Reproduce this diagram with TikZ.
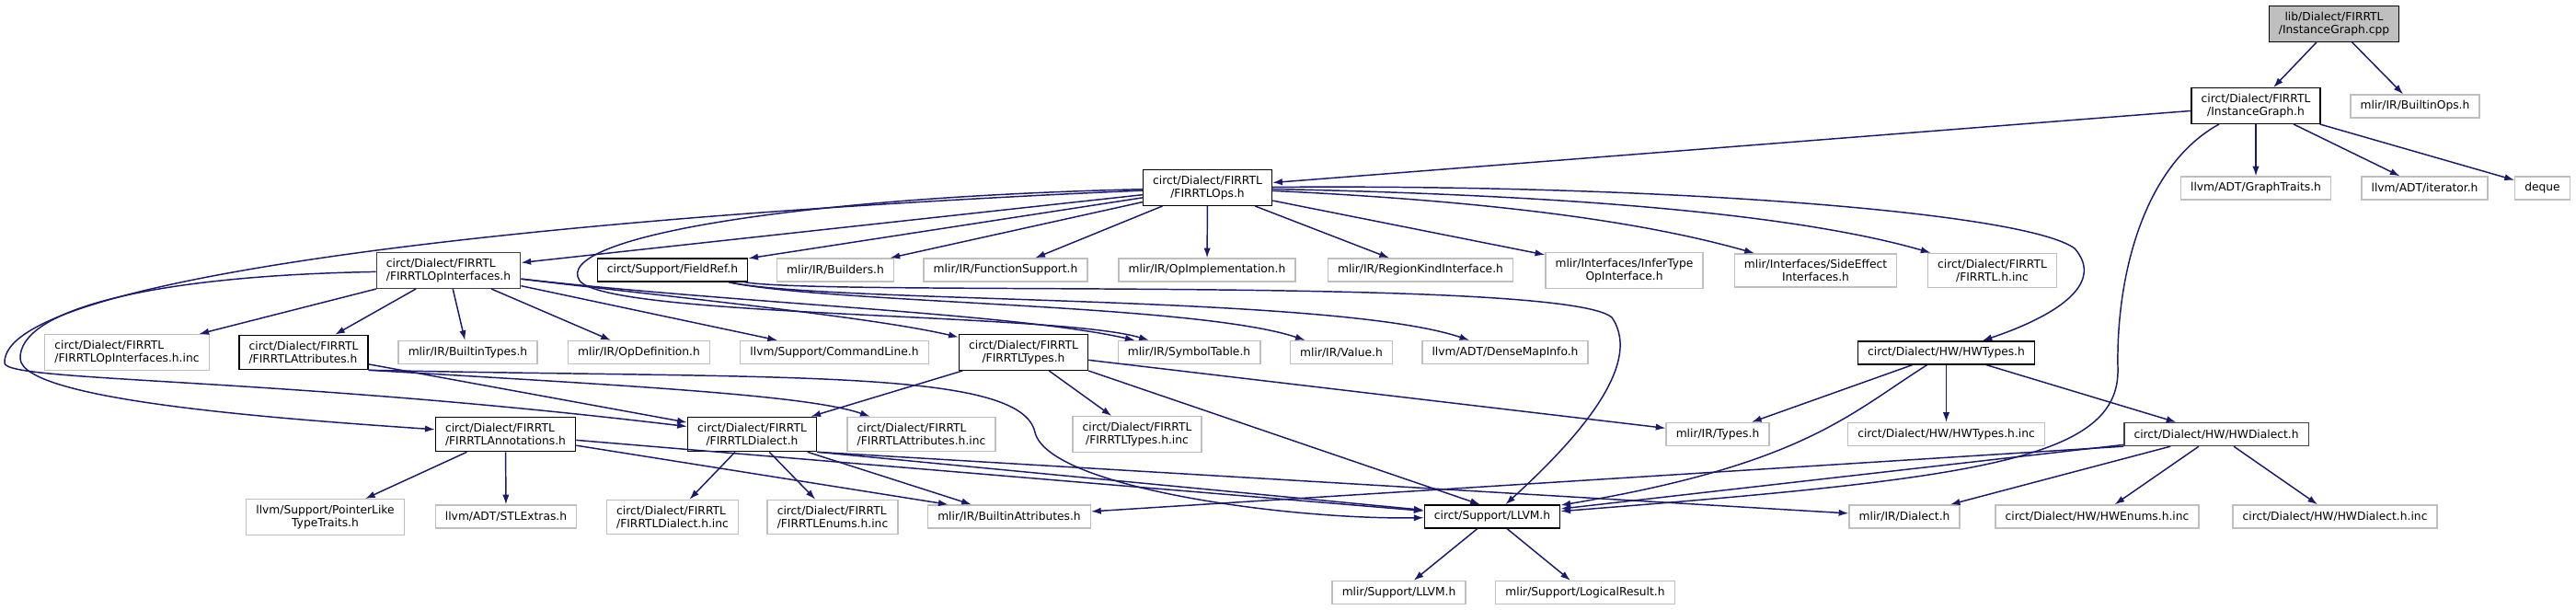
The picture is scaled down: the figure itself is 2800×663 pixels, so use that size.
\documentclass[tikz,border=0pt]{standalone}
\usepackage{fontspec}
\setmainfont{DejaVu Sans}
\usetikzlibrary{arrows.meta}
\definecolor{edgeblue}{RGB}{25,25,112}
\definecolor{boxgrey}{RGB}{191,191,191}
\tikzset{
  hdr/.style={draw=black,line width=1pt,fill=white,inner xsep=8pt,inner ysep=4.8pt,
    minimum height=18.75pt,font=\fontsize{9.2}{10.5}\selectfont,align=center},
  extfile/.style={hdr,draw=boxgrey},
  dep/.style={edgeblue,line width=1.1pt,-{Latex[length=8pt,width=5.5pt]}},
}

\begin{document}
\begin{tikzpicture}[x=0.75pt,y=-0.75pt]
        \useasboundingbox (0,0) rectangle (2800,663);
        % top
        \node[hdr,fill=boxgrey] (root) at (2537,26) {lib/Dialect/FIRRTL\\/InstanceGraph.cpp};
        \node[hdr] (igh) at (2452,115) {circt/Dialect/FIRRTL\\/InstanceGraph.h};
        \node[extfile] (bops) at (2625,115.5) {mlir/IR/BuiltinOps.h};
        \node[hdr] (fops) at (1312.5,204) {circt/Dialect/FIRRTL\\/FIRRTLOps.h};
        \node[extfile] (gtraits) at (2452,204.5) {llvm/ADT/GraphTraits.h};
        \node[extfile] (iter) at (2635.5,204.5) {llvm/ADT/iterator.h};
        \node[extfile] (deque) at (2763.5,204.5) {deque};
        % second row
        \node[hdr,draw=black!75,align=left] (opif) at (487.5,294) {circt/Dialect/FIRRTL\\/FIRRTLOpInterfaces.h};
        \node[hdr] (fref) at (731,293.5) {circt/Support/FieldRef.h};
        \node[extfile] (builders) at (908,293.5) {mlir/IR/Builders.h};
        \node[extfile] (funcsup) at (1093,293.5) {mlir/IR/FunctionSupport.h};
        \node[extfile] (opimpl) at (1312,293.5) {mlir/IR/OpImplementation.h};
        \node[extfile] (regkind) at (1544,293.5) {mlir/IR/RegionKindInterface.h};
        \node[extfile] (infertype) at (1765.5,294) {mlir/Interfaces/InferType\\OpInterface.h};
        \node[extfile] (sideeff) at (1973.5,294) {mlir/Interfaces/SideEffect\\Interfaces.h};
        \node[extfile] (finc) at (2165.5,294) {circt/Dialect/FIRRTL\\/FIRRTL.h.inc};
        % third row
        \node[extfile,align=left] (opifinc) at (138,383) {circt/Dialect/FIRRTL\\/FIRRTLOpInterfaces.h.inc};
        \node[hdr,align=left] (fattr) at (330,383) {circt/Dialect/FIRRTL\\/FIRRTLAttributes.h};
        \node[extfile] (btypes) at (508.5,383) {mlir/IR/BuiltinTypes.h};
        \node[extfile] (opdef) at (694.5,383) {mlir/IR/OpDefinition.h};
        \node[extfile] (cmdline) at (907,383) {llvm/Support/CommandLine.h};
        \node[hdr] (ftypes) at (1112.5,383) {circt/Dialect/FIRRTL\\/FIRRTLTypes.h};
        \node[extfile] (symtab) at (1292.5,383) {mlir/IR/SymbolTable.h};
        \node[extfile] (value) at (1458,383) {mlir/IR/Value.h};
        \node[extfile] (dmi) at (1636,383) {llvm/ADT/DenseMapInfo.h};
        \node[hdr] (hwtypes) at (2115.5,383.5) {circt/Dialect/HW/HWTypes.h};
        % fourth row
        \node[hdr,align=left] (fanno) at (549.5,472) {circt/Dialect/FIRRTL\\/FIRRTLAnnotations.h};
        \node[hdr] (fdialect) at (817.5,472) {circt/Dialect/FIRRTL\\/FIRRTLDialect.h};
        \node[extfile,align=left] (fattrinc) at (1001.5,472) {circt/Dialect/FIRRTL\\/FIRRTLAttributes.h.inc};
        \node[extfile] (ftypesinc) at (1236,472) {circt/Dialect/FIRRTL\\/FIRRTLTypes.h.inc};
        \node[extfile] (mtypes) at (1867,472) {mlir/IR/Types.h};
        \node[extfile] (hwtypesinc) at (2115.5,472) {circt/Dialect/HW/HWTypes.h.inc};
        \node[hdr,draw=black!75] (hwdialect) at (2409,472) {circt/Dialect/HW/HWDialect.h};
        % fifth row
        \node[extfile] (ptrlike) at (353.5,562) {llvm/Support/PointerLike\\TypeTraits.h};
        \node[extfile] (stlext) at (550,561.5) {llvm/ADT/STLExtras.h};
        \node[extfile,align=left] (fdialectinc) at (731,562) {circt/Dialect/FIRRTL\\/FIRRTLDialect.h.inc};
        \node[extfile,align=left] (fenumsinc) at (905,562) {circt/Dialect/FIRRTL\\/FIRRTLEnums.h.inc};
        \node[extfile] (battr) at (1097,561.5) {mlir/IR/BuiltinAttributes.h};
        \node[hdr] (cllvm) at (1622,561.5) {circt/Support/LLVM.h};
        \node[extfile] (mdialect) at (2070,561.5) {mlir/IR/Dialect.h};
        \node[extfile] (hwenums) at (2279.5,561.5) {circt/Dialect/HW/HWEnums.h.inc};
        \node[extfile] (hwdialectinc) at (2538,561.5) {circt/Dialect/HW/HWDialect.h.inc};
        % bottom
        \node[extfile] (mllvm) at (1520.5,644) {mlir/Support/LLVM.h};
        \node[extfile] (logres) at (1723,644) {mlir/Support/LogicalResult.h};

        % InstanceGraph.cpp and InstanceGraph.h
        \draw[dep] (root) -- (igh);
        \draw[dep] (root) -- (bops);
        \draw[dep] (igh) -- (fops);
        \draw[dep] (igh) -- (gtraits);
        \draw[dep] (igh) -- (iter);
        \draw[dep] (igh) -- (deque);
        \draw[dep] ([xshift=-30pt]igh.south) .. controls (2330,180) and (2300,300) .. (2302,400)
          .. controls (2305,500) and (2150,520) .. (cllvm);
        % FIRRTLOps.h
        \draw[dep] (fops) -- (opif);
        \draw[dep] (fops) -- (fref);
        \draw[dep] (fops) -- (builders);
        \draw[dep] (fops) -- (funcsup);
        \draw[dep] (fops) -- (opimpl);
        \draw[dep] (fops) -- (regkind);
        \draw[dep] (fops) -- (infertype);
        \draw[dep] (fops) .. controls (1650,220) and (1800,245) .. (sideeff);
        \draw[dep] (fops) .. controls (1700,212) and (1950,232) .. (finc);
        \draw[dep] (fops) .. controls (1800,200) and (2200,230) .. (2255,270)
          .. controls (2290,310) and (2230,345) .. (hwtypes);
        \draw[dep] (fops) .. controls (600,235) and (0,300) .. (5,395)
          .. controls (10,415) and (300,410) .. (fdialect);
        \draw[dep] (fops) .. controls (850,215) and (600,260) .. (630,305)
          .. controls (660,345) and (1150,340) .. (symtab);
        % FIRRTLOpInterfaces.h
        \draw[dep] (opif) -- (opifinc);
        \draw[dep] (opif) -- (fattr);
        \draw[dep] (opif) -- (btypes);
        \draw[dep] (opif) -- (opdef);
        \draw[dep] (opif) -- (cmdline);
        \draw[dep] (opif) .. controls (750,325) and (950,345) .. (ftypes);
        \draw[dep] (opif) .. controls (800,330) and (1100,340) .. (symtab);
        \draw[dep] (opif) .. controls (150,300) and (20,340) .. (22,390)
          .. controls (25,435) and (300,455) .. (fanno);
        % FieldRef.h
        \draw[dep] (fref) .. controls (900,330) and (1300,330) .. (value);
        \draw[dep] (fref) .. controls (900,330) and (1450,320) .. (dmi);
        \draw[dep] (fref) .. controls (900,322) and (1700,300) .. (1752,345)
          .. controls (1790,400) and (1700,490) .. (cllvm);
        % FIRRTLAttributes.h
        \draw[dep] (fattr) -- (fdialect);
        \draw[dep] (fattr.south east) .. controls (700,420) and (880,430) .. (fattrinc);
        \draw[dep] (fattr.south east) .. controls (850,412) and (1110,400) .. (1125,470)
          .. controls (1140,530) and (1400,565) .. (cllvm);
        % FIRRTLTypes.h
        \draw[dep] (ftypes) -- (fdialect);
        \draw[dep] (ftypes) -- (ftypesinc);
        \draw[dep] (ftypes.south east) -- (cllvm.135);
        \draw[dep] (ftypes) -- (mtypes);
        % FIRRTLAnnotations.h
        \draw[dep] (fanno) -- (ptrlike);
        \draw[dep] (fanno) -- (stlext);
        \draw[dep] (fanno) -- ([xshift=17pt]battr.north west);
        \draw[dep] (fanno) -- (cllvm);
        % FIRRTLDialect.h
        \draw[dep] (fdialect) -- (fdialectinc);
        \draw[dep] (fdialect) -- (fenumsinc);
        \draw[dep] (fdialect) -- (battr);
        \draw[dep] (fdialect.south east) -- (cllvm);
        \draw[dep] (fdialect.south east) -- (mdialect);
        % HW dialect
        \draw[dep] (hwtypes) -- (mtypes);
        \draw[dep] (hwtypes) -- (hwtypesinc);
        \draw[dep] (hwtypes) -- (hwdialect);
        \draw[dep] (hwtypes) .. controls (2010,450) and (1960,505) .. (cllvm);
        \draw[dep] (hwdialect) -- (cllvm);
        \draw[dep] (hwdialect.south west) -- (battr);
        \draw[dep] (hwdialect) -- (mdialect);
        \draw[dep] (hwdialect) -- (hwenums);
        \draw[dep] (hwdialect) -- (hwdialectinc);
        % circt/Support/LLVM.h
        \draw[dep] (cllvm) -- (mllvm);
        \draw[dep] (cllvm) -- (logres);
\end{tikzpicture}
\end{document}
